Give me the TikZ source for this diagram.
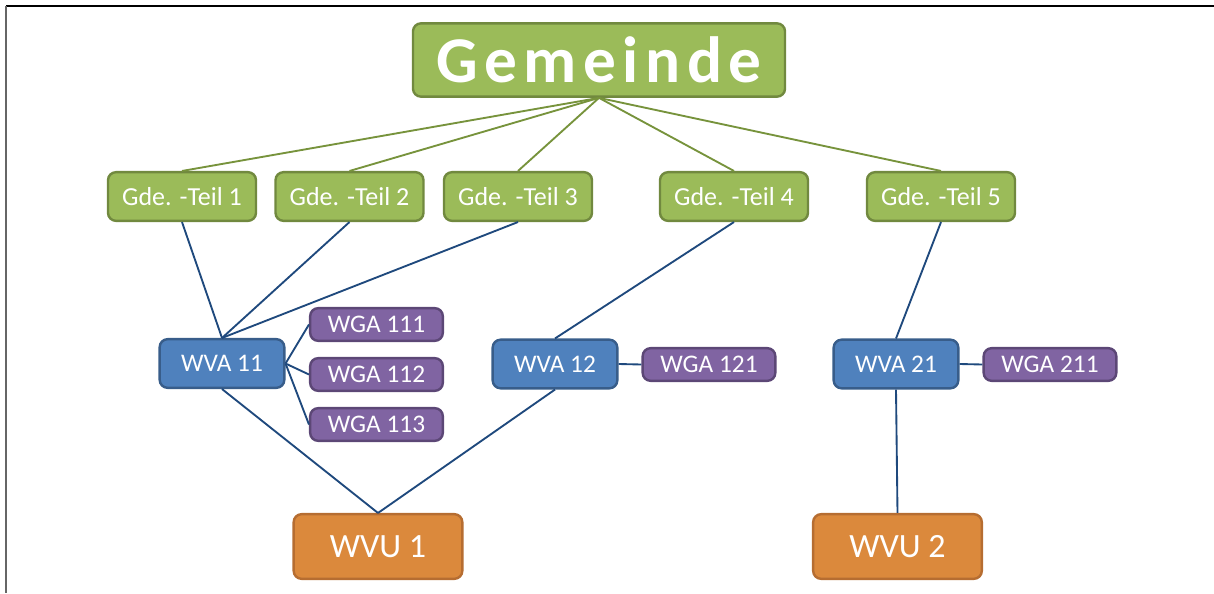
\documentclass[tikz,border=0pt]{standalone}
\usepackage{fontspec}
\setmainfont{Carlito}
\usepackage{xcolor}
\usepackage{tikz}
\usetikzlibrary{positioning}
\definecolor{gdegreen}{HTML}{9BBB59}
\definecolor{gdedark}{HTML}{71893F}
\definecolor{gdeline}{HTML}{77933C}
\definecolor{wvablue}{HTML}{4F81BD}
\definecolor{wvadark}{HTML}{385D8A}
\definecolor{wgapurple}{HTML}{8064A2}
\definecolor{wgadark}{HTML}{5C4776}
\definecolor{wvuorange}{HTML}{DB893C}
\definecolor{wvudark}{HTML}{B66D31}
\definecolor{linkblue}{HTML}{1F497D}
\tikzstyle{box} = [rounded corners=6pt, line width=1.8pt, text=white, inner sep=0pt]
\tikzstyle{greenlink} = [gdeline, line width=1.4pt]
\tikzstyle{bluelink} = [linkblue, line width=1.4pt]

\begin{document}
\begin{tikzpicture}[x=0.75pt, y=-0.75pt,
    gemeinde/.style={box, draw=gdedark, fill=gdegreen, minimum width=279pt, minimum height=55pt, font=\fontsize{49}{54}\selectfont\bfseries\addfontfeature{LetterSpace=10}},
    teil/.style={box, draw=gdedark, fill=gdegreen, minimum width=111pt, minimum height=36.5pt, font=\fontsize{19.5}{23}\selectfont},
    wva/.style={box, draw=wvadark, fill=wvablue, minimum width=93.5pt, minimum height=36.5pt, font=\fontsize{19}{23}\selectfont},
    wga/.style={box, draw=wgadark, fill=wgapurple, minimum width=99.5pt, minimum height=24.5pt, font=\fontsize{19}{23}\selectfont},
    wvu/.style={box, draw=wvudark, fill=wvuorange, minimum width=126.5pt, minimum height=48.5pt, font=\fontsize{25.5}{30}\selectfont}]
    \useasboundingbox (0,0) rectangle (1214,593);
    % frame
    \draw[black, line width=1.2pt] (6,6) -- (1214,6);
    \draw[black!60, line width=1.6pt] (6,6) -- (6,593);
    % nodes
    \node[gemeinde] (gem) at (599,60) {Gemeinde};
    \node[teil] (t1) at (182,196.5) {Gde. -Teil 1};
    \node[teil] (t2) at (349.5,196.5) {Gde. -Teil 2};
    \node[teil] (t3) at (518,196.5) {Gde. -Teil 3};
    \node[teil] (t4) at (734,196.5) {Gde. -Teil 4};
    \node[teil] (t5) at (941,196.5) {Gde. -Teil 5};
    \node[wva] (wva11) at (222,363.5) {WVA 11};
    \node[wva] (wva12) at (555,364) {WVA 12};
    \node[wva] (wva21) at (896,364) {WVA 21};
    \node[wga] (wga111) at (376.5,324.5) {WGA 111};
    \node[wga] (wga112) at (376.5,374.5) {WGA 112};
    \node[wga] (wga113) at (376.5,424.5) {WGA 113};
    \node[wga] (wga121) at (709,364.5) {WGA 121};
    \node[wga] (wga211) at (1050,364.5) {WGA 211};
    \node[wvu] (wvu1) at (378,546.5) {WVU 1};
    \node[wvu] (wvu2) at (897.5,546.5) {WVU 2};
    % links
    \draw[greenlink] (gem.south) -- (t1.north);
    \draw[greenlink] (gem.south) -- (t2.north);
    \draw[greenlink] (gem.south) -- (t3.north);
    \draw[greenlink] (gem.south) -- (t4.north);
    \draw[greenlink] (gem.south) -- (t5.north);
    \draw[bluelink] (t1.south) -- (wva11.north);
    \draw[bluelink] (t2.south) -- (wva11.north);
    \draw[bluelink] (t3.south) -- (wva11.north);
    \draw[bluelink] (t4.south) -- (wva12.north);
    \draw[bluelink] (t5.south) -- (wva21.north);
    \draw[bluelink] (wva11.east) -- (wga111.west);
    \draw[bluelink] (wva11.east) -- (wga112.west);
    \draw[bluelink] (wva11.east) -- (wga113.west);
    \draw[bluelink] (wva12.east) -- (wga121.west);
    \draw[bluelink] (wva21.east) -- (wga211.west);
    \draw[bluelink] (wva11.south) -- (wvu1.north);
    \draw[bluelink] (wva12.south) -- (wvu1.north);
    \draw[bluelink] (wva21.south) -- (wvu2.north);
\end{tikzpicture}
\end{document}
